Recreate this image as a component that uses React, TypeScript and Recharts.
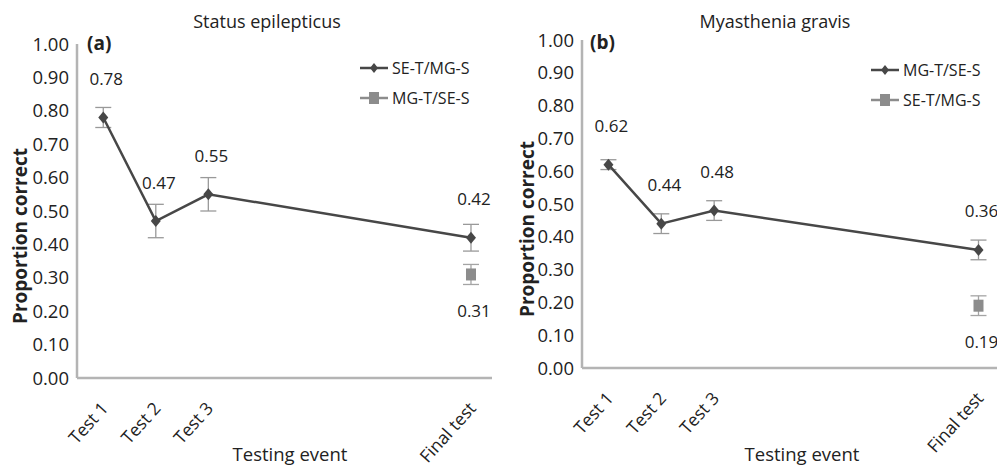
import React from 'react';
import {
  ComposedChart,
  Line,
  XAxis,
  YAxis,
  ErrorBar,
  LabelList,
} from 'recharts';

// testing events: Test 1..3 at positions 1..3, final test at 8
const eventPos = [1, 2, 3, 8];
const eventNames = ['Test 1', 'Test 2', 'Test 3', 'Final test'];
const yTicks = [0, 0.1, 0.2, 0.3, 0.4, 0.5, 0.6, 0.7, 0.8, 0.9, 1.0];

// (a) Status epilepticus
const seMain = [0.78, 0.47, 0.55, 0.42];
const seMainErr = [0.03, 0.05, 0.05, 0.04];
const seOther = [null, null, null, 0.31];
const seOtherErr = [null, null, null, 0.03];

// (b) Myasthenia gravis
const mgMain = [0.62, 0.44, 0.48, 0.36];
const mgMainErr = [0.015, 0.03, 0.03, 0.03];
const mgOther = [null, null, null, 0.19];
const mgOtherErr = [null, null, null, 0.03];

const FONT = '"Open Sans", sans-serif';
const LINE = '#474747';
const SQUARE = '#8c8c8c';
const AXIS = '#b4b4b4';

function buildRows(main: number[], mainErr: number[], other: (number | null)[], otherErr: (number | null)[]) {
  return eventPos.map((x, i) => ({
    x,
    main: main[i],
    mainErr: mainErr[i],
    other: other[i],
    otherErr: otherErr[i],
  }));
}

const Diamond = (props: any) => {
  const { cx, cy } = props;
  if (cx == null || cy == null) return null;
  return <polygon points={`${cx},${cy - 6} ${cx + 5},${cy} ${cx},${cy + 6} ${cx - 5},${cy}`} fill={LINE} />;
};

const Square = (props: any) => {
  const { cx, cy, payload } = props;
  if (cx == null || cy == null || payload?.other == null) return null;
  return <rect x={cx - 5} y={cy - 6} width={10} height={12} fill={SQUARE} />;
};

const XTick = (props: any) => {
  const { x, y, payload } = props;
  const idx = eventPos.indexOf(payload.value);
  const tx = x + 6;
  const ty = y + 23;
  return (
    <text x={tx} y={ty} transform={`rotate(-48, ${tx}, ${ty})`} textAnchor="end" fontSize={17.5} fontFamily={FONT} fill="#222">
      {eventNames[idx]}
    </text>
  );
};

const makeLabel = (dy: number) => (props: any) => {
  const { x, y, value } = props;
  if (value == null) return null;
  return (
    <text x={x + 3} y={y + dy} textAnchor="middle" dominantBaseline="central" fontSize={17} fontFamily={FONT} fill="#222">
      {Number(value).toFixed(2)}
    </text>
  );
};

const LegendBox = ({ names }: { names: string[] }) => (
  <svg width={130} height={50} style={{ overflow: 'visible', display: 'block' }}>
    <line x1={0} y1={8} x2={28} y2={8} stroke={LINE} strokeWidth={2.5} />
    <polygon points="14,3 18,8 14,13 10,8" fill={LINE} />
    <text x={32} y={8} dominantBaseline="central" fontSize={16} fontFamily={FONT} fill="#222">{names[0]}</text>
    <line x1={0} y1={38} x2={28} y2={38} stroke={SQUARE} strokeWidth={2.5} />
    <rect x={9} y={32} width={10} height={12} fill={SQUARE} />
    <text x={32} y={38} dominantBaseline="central" fontSize={16} fontFamily={FONT} fill="#222">{names[1]}</text>
  </svg>
);

interface PanelProps {
  rows: any[];
  left: number;
  yAxisWidth: number;
  top: number;
  bottom: number;
  rightMargin: number;
  xMax: number;
  title: string;
  titleX: number;
  tag: string;
  tagX: number;
  tagY: number;
  legend: string[];
  legendX: number;
  legendY: number;
  yLabelX: number;
  yLabelY: number;
  xLabelX: number;
}

function Panel(p: PanelProps) {
  return (
    <div style={{ position: 'absolute', left: p.left, top: 0, width: 497, height: 465, fontFamily: FONT }}>
      <ComposedChart
        width={497}
        height={465}
        data={p.rows}
        margin={{ top: p.top, right: p.rightMargin, bottom: 0, left: 0 }}
      >
        <XAxis
          dataKey="x"
          type="number"
          domain={[0.5, p.xMax]}
          ticks={eventPos}
          tick={<XTick />}
          tickLine={false}
          axisLine={{ stroke: AXIS, strokeWidth: 2.5 }}
          height={465 - p.bottom}
          allowDataOverflow
        />
        <YAxis
          domain={[0, 1]}
          ticks={yTicks}
          width={p.yAxisWidth}
          tickFormatter={(v: number) => v.toFixed(2)}
          tick={{ fontSize: 18.5, fontFamily: FONT, fill: '#222' }}
          tickLine={false}
          tickMargin={2}
          axisLine={{ stroke: AXIS, strokeWidth: 2.5 }}
        />
        <Line
          dataKey="main"
          stroke={LINE}
          strokeWidth={2.5}
          dot={<Diamond />}
          activeDot={false}
          isAnimationActive={false}
        >
          <ErrorBar dataKey="mainErr" width={8} stroke="#999" strokeWidth={1.3} />
          <LabelList dataKey="main" content={makeLabel(-39)} />
        </Line>
        <Line
          dataKey="other"
          stroke={SQUARE}
          strokeWidth={0}
          dot={<Square />}
          activeDot={false}
          connectNulls={false}
          isAnimationActive={false}
        >
          <ErrorBar dataKey="otherErr" width={8} stroke="#a4a4a4" strokeWidth={1.3} />
          <LabelList dataKey="other" content={makeLabel(36)} />
        </Line>
      </ComposedChart>
      <div style={{ position: 'absolute', left: p.legendX, top: p.legendY }}>
        <LegendBox names={p.legend} />
      </div>
      <div style={{ position: 'absolute', left: p.titleX - 100, width: 200, top: 9, textAlign: 'center', fontSize: 18, color: '#222' }}>
        {p.title}
      </div>
      <div style={{ position: 'absolute', left: p.tagX, top: p.tagY - 13, fontSize: 19, fontWeight: 'bold', color: '#222' }}>
        {p.tag}
      </div>
      <div
        style={{
          position: 'absolute',
          left: p.yLabelX - 100,
          top: p.yLabelY - 12,
          width: 200,
          textAlign: 'center',
          fontSize: 19,
          fontWeight: 'bold',
          color: '#222',
          transform: 'rotate(-90deg)',
          lineHeight: '24px',
        }}
      >
        Proportion correct
      </div>
      <div style={{ position: 'absolute', left: p.xLabelX - 100, width: 200, top: 441, textAlign: 'center', fontSize: 18.5, color: '#222' }}>
        Testing event
      </div>
    </div>
  );
}

export default function App() {
  return (
    <div style={{ position: 'absolute', left: 0, top: 0, width: 997, height: 465, background: '#fff', overflow: 'hidden' }}>
      <Panel
        rows={buildRows(seMain, seMainErr, seOther, seOtherErr)}
        left={0}
        yAxisWidth={77}
        top={44}
        bottom={378}
        rightMargin={5}
        xMax={8.4}
        title="Status epilepticus"
        titleX={267}
        tag="(a)"
        tagX={87}
        tagY={43}
        legend={['SE-T/MG-S', 'MG-T/SE-S']}
        legendX={360}
        legendY={60}
        yLabelX={20}
        yLabelY={236}
        xLabelX={290}
      />
      <Panel
        rows={buildRows(mgMain, mgMainErr, mgOther, mgOtherErr)}
        left={500}
        yAxisWidth={82}
        top={40}
        bottom={368}
        rightMargin={0}
        xMax={8.35}
        title="Myasthenia gravis"
        titleX={275}
        tag="(b)"
        tagX={90}
        tagY={42}
        legend={['MG-T/SE-S', 'SE-T/MG-S']}
        legendX={371}
        legendY={62}
        yLabelX={27}
        yLabelY={229}
        xLabelX={302}
      />
    </div>
  );
}
